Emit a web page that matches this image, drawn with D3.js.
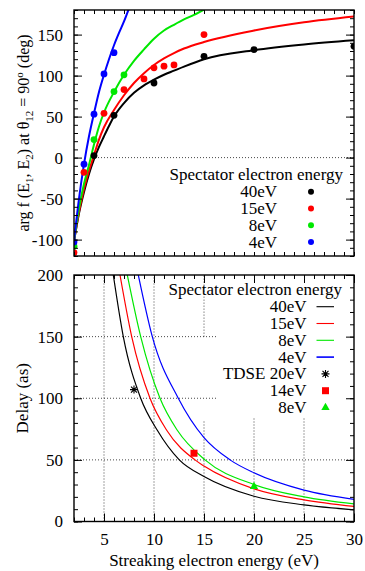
<!DOCTYPE html>
<head>
  <meta charset="utf-8">
  <style>
    body { margin: 0; background: #fff; }
    svg text { font-family: "Liberation Serif", "DejaVu Serif", serif; font-size: 17px; fill: #000; }
    .frame { fill: none; stroke: #000; stroke-width: 1.4px; }
    .tick line { stroke: #000; stroke-width: 1px; }
    .grid { stroke: #000; stroke-width: 0.9px; stroke-dasharray: 1,2; opacity: 0.8; }
    .fit { fill: none; stroke-width: 2px; }
    .delay { fill: none; stroke-width: 1.2px; }
  </style>
</head>
<body>
<script src="https://d3js.org/d3.v7.min.js"></script>
<script>
  // ---- data ----
  var spectators = ["40eV", "15eV", "8eV", "4eV"];
  var colors = ["#000000", "#ff0000", "#00e800", "#0000ff"];

  // top panel: computed points [E, arg f]
  var pts40 = [[4, 2.5], [6, 51.6], [10, 91], [15, 123.5], [20, 131.7], [30, 135.7]];
  var pts15 = [[2, -116], [3, -18], [5, 54], [7, 83], [9, 96], [10, 109.5], [11, 111.5], [12, 113], [15, 150]];
  var pts8  = [[2, -108], [4, 22], [6, 80.5], [7, 101]];
  var pts4  = [[2, -103], [3, -8], [4, 53], [5, 102], [6, 128]];

  // top panel: fitted curves
  var fit40 = [[2, -102], [2.5, -68], [3, -42], [3.5, -20], [4, -2], [4.5, 13], [5, 26], [5.5, 38.5], [6, 50],
               [7, 66.5], [8, 79], [9, 88], [10, 95], [11, 101], [12, 106], [13, 111], [15, 120], [20, 131], [25, 138], [30, 143]];
  var fit15 = [[2, -102], [2.5, -66], [3, -38], [3.5, -16], [4, 3], [4.5, 22], [5, 37], [6, 58], [7, 76], [8, 91],
               [9, 103], [10, 113], [11, 121], [12, 127.5], [13, 133], [15, 141], [20, 155], [25, 165], [30, 172]];
  var fit8  = [[2, -102], [2.5, -62], [3, -32], [3.5, -9], [4, 16], [4.5, 38], [5, 55], [6, 80], [7, 101], [8, 118],
               [9, 132], [10, 145], [11, 155], [12, 162], [13, 168.5], [14, 174], [15, 180.5]];
  var fit4  = [[2, -102], [2.5, -50], [3, -8], [3.5, 26], [4, 54], [4.5, 80], [5, 101], [5.5, 120], [6, 137],
               [6.5, 152], [7, 166], [7.5, 182]];

  // bottom panel: delay curves [E, delay]
  var delay40 = [[5.93, 200], [6.93, 150], [8.67, 100], [10.33, 74], [12.53, 50], [15, 36.5], [20, 20.5], [25, 13.5], [30, 9.5]];
  var delay15 = [[6.6, 200], [7.77, 150], [9.6, 100], [11.27, 74], [14.1, 50], [15, 45], [20, 26.5], [25, 17.5], [30, 12.2]];
  var delay8  = [[7.33, 200], [8.67, 150], [10.6, 100], [12.33, 74], [15.1, 50], [20, 30], [25, 20], [30, 14.3]];
  var delay4  = [[8.43, 200], [9.83, 150], [12.43, 100], [15, 68], [17.6, 50], [20, 39.5], [25, 25.5], [30, 18]];

  // bottom panel: TDSE points
  var tdseLabels = ["TDSE 20eV", "14eV", "8eV"];
  var tdse = [[8, 107], [14, 55.4], [20, 28.4]];

  var xTicks = [5, 10, 15, 20, 25, 30];
  var topYTicks = [-100, -50, 0, 50, 100, 150];
  var botYTicks = [0, 50, 100, 150, 200];

  var topPts = [pts40, pts15, pts8, pts4];
  var topFits = [fit40, fit15, fit8, fit4];
  var delays = [delay40, delay15, delay8, delay4];

  // ---- layout ----
  var W = 365, H = 571;
  var left = 74, right = 354;
  var topPanel = { y0: 10, y1: 256 };
  var botPanel = { y0: 275, y1: 521.5 };

  var svg = d3.select("body").append("svg")
      .attr("width", W).attr("height", H);

  var x = d3.scaleLinear().domain([2, 30]).range([left, right]);
  var yT = d3.scaleLinear().domain([-120, 180]).range([topPanel.y1, topPanel.y0]);
  var yB = d3.scaleLinear().domain([0, 200]).range([botPanel.y1, botPanel.y0]);

  var defs = svg.append("defs");
  defs.append("clipPath").attr("id", "clipT").append("rect")
      .attr("x", left).attr("y", topPanel.y0).attr("width", right - left).attr("height", topPanel.y1 - topPanel.y0);
  defs.append("clipPath").attr("id", "clipB").append("rect")
      .attr("x", left).attr("y", botPanel.y0).attr("width", right - left).attr("height", botPanel.y1 - botPanel.y0);

  var fmt = function (d) { return d < 0 ? "-" + Math.abs(d) : String(d); };

  // axes with inward ticks on all four sides
  function axes(y, y0, y1, yMajor, labelsX) {
    var g = svg.append("g");
    var minorX = d3.range(2, 31, 1), minorY = d3.range(y.domain()[0], y.domain()[1] + 1, 10);

    g.append("g").attr("transform", "translate(0," + y1 + ")")
      .call(d3.axisBottom(x).tickValues(minorX).tickSize(-4).tickFormat(""));
    g.append("g").attr("transform", "translate(0," + y0 + ")")
      .call(d3.axisTop(x).tickValues(minorX).tickSize(-4).tickFormat(""));
    if (labelsX) {
      g.append("g").attr("transform", "translate(0," + y1 + ")")
        .call(d3.axisBottom(x).tickValues(xTicks).tickSize(-8).tickPadding(11).tickFormat(fmt));
      g.append("g").attr("transform", "translate(0," + y0 + ")")
        .call(d3.axisTop(x).tickValues(xTicks).tickSize(-8).tickFormat(""));
    }
    g.append("g").attr("transform", "translate(" + left + ",0)")
      .call(d3.axisLeft(y).tickValues(minorY).tickSize(-4).tickFormat(""));
    g.append("g").attr("transform", "translate(" + right + ",0)")
      .call(d3.axisRight(y).tickValues(minorY).tickSize(-4).tickFormat(""));
    g.append("g").attr("transform", "translate(" + left + ",0)")
      .call(d3.axisLeft(y).tickValues(yMajor).tickSize(-8).tickPadding(11).tickFormat(fmt));
    g.append("g").attr("transform", "translate(" + right + ",0)")
      .call(d3.axisRight(y).tickValues(yMajor).tickSize(-8).tickFormat(""));

    g.selectAll(".domain").remove();
    g.selectAll(".tick text").style("font-family", "Liberation Serif").style("font-size", "17px");
    g.append("rect").attr("class", "frame")
      .attr("x", left).attr("y", y0).attr("width", right - left).attr("height", y1 - y0);
  }

  // ================= top panel =================
  var gTop = svg.append("g").attr("clip-path", "url(#clipT)");

  // zero line
  gTop.append("line").attr("class", "grid")
      .attr("x1", x(4.1)).attr("x2", x(30)).attr("y1", yT(0)).attr("y2", yT(0));

  var fitLine = d3.line().x(function (d) { return x(d[0]); }).y(function (d) { return yT(d[1]); })
      .curve(d3.curveMonotoneX);

  topFits.forEach(function (f, i) {
    gTop.append("path").attr("class", "fit").attr("d", fitLine(f)).style("stroke", colors[i]);
  });
  topPts.forEach(function (p, i) {
    gTop.selectAll(null).data(p).enter().append("circle")
      .attr("cx", function (d) { return x(d[0]); })
      .attr("cy", function (d) { return yT(d[1]); })
      .attr("r", 3.4).style("fill", colors[i]);
  });

  axes(yT, topPanel.y0, topPanel.y1, topYTicks, false);

  // legend top
  var lgT = svg.append("g");
  lgT.append("text").attr("x", 343).attr("y", 180).attr("text-anchor", "end").text("Spectator electron energy");
  spectators.forEach(function (s, i) {
    var yy = 191.7 + i * 16.8;
    lgT.append("text").attr("x", 277).attr("y", yy + 5.5).attr("text-anchor", "end").text(s);
    lgT.append("circle").attr("cx", 311).attr("cy", yy).attr("r", 3).style("fill", colors[i]);
  });

  // y label top
  var ylT = svg.append("text")
      .attr("transform", "translate(29," + ((topPanel.y0 + topPanel.y1) / 2) + ") rotate(-90)")
      .attr("text-anchor", "middle").style("font-size", "16px");
  ylT.append("tspan").text("arg f (E");
  ylT.append("tspan").attr("dy", 4).style("font-size", "11px").text("1");
  ylT.append("tspan").attr("dy", -4).text(", E");
  ylT.append("tspan").attr("dy", 4).style("font-size", "11px").text("2");
  ylT.append("tspan").attr("dy", -4).text(") at \u03b8");
  ylT.append("tspan").attr("dy", 4).style("font-size", "11px").text("12");
  ylT.append("tspan").attr("dy", -4).text(" = 90");
  ylT.append("tspan").attr("dy", -6).style("font-size", "11px").text("o");
  ylT.append("tspan").attr("dy", 6).text(" (deg)");

  // ================= bottom panel =================
  var gBot = svg.append("g").attr("clip-path", "url(#clipB)");

  // grid, broken around the key
  var gridV = [[5, 0, 200], [10, 0, 200], [15, 150, 200], [15, 0, 82], [20, 0, 84], [25, 0, 84]];
  var gridH = [[50, 2, 30], [100, 2, 16.3], [150, 2, 16.3]];
  gBot.selectAll(null).data(gridV).enter().append("line").attr("class", "grid")
      .attr("x1", function (d) { return x(d[0]); }).attr("x2", function (d) { return x(d[0]); })
      .attr("y1", function (d) { return yB(d[1]); }).attr("y2", function (d) { return yB(d[2]); });
  gBot.selectAll(null).data(gridH).enter().append("line").attr("class", "grid")
      .attr("y1", function (d) { return yB(d[0]); }).attr("y2", function (d) { return yB(d[0]); })
      .attr("x1", function (d) { return x(d[1]); }).attr("x2", function (d) { return x(d[2]); });

  var delayLine = d3.line().x(function (d) { return x(d[0]); }).y(function (d) { return yB(d[1]); })
      .curve(d3.curveMonotoneX);
  delays.forEach(function (f, i) {
    gBot.append("path").attr("class", "delay").attr("d", delayLine(f)).style("stroke", colors[i]);
  });

  // asterisk symbol (plus + cross)
  var star = {
    draw: function (ctx, size) {
      var r = Math.sqrt(size) / 2, q = r * 0.75;
      ctx.moveTo(-r, 0); ctx.lineTo(r, 0);
      ctx.moveTo(0, -r); ctx.lineTo(0, r);
      ctx.moveTo(-q, -q); ctx.lineTo(q, q);
      ctx.moveTo(-q, q); ctx.lineTo(q, -q);
    }
  };
  var tdseSym = [
    { path: d3.symbol().type(star).size(64)(), fill: "none", stroke: "#000" },
    { path: d3.symbol().type(d3.symbolSquare).size(49)(), fill: "#ff0000", stroke: "none" },
    { path: d3.symbol().type(d3.symbolTriangle).size(30)(), fill: "#00e800", stroke: "none" }
  ];
  tdse.forEach(function (d, i) {
    gBot.append("path").attr("d", tdseSym[i].path)
      .attr("transform", "translate(" + x(d[0]) + "," + yB(d[1]) + ")")
      .style("fill", tdseSym[i].fill).style("stroke", tdseSym[i].stroke).style("stroke-width", 1.1);
  });

  axes(yB, botPanel.y0, botPanel.y1, botYTicks, true);

  // legend bottom
  var lgB = svg.append("g");
  lgB.append("text").attr("x", 342).attr("y", 295).attr("text-anchor", "end").text("Spectator electron energy");
  spectators.forEach(function (s, i) {
    var yy = 306.7 + i * 16.8;
    lgB.append("text").attr("x", 306.5).attr("y", yy + 5.5).attr("text-anchor", "end").text(s);
    lgB.append("line").attr("x1", 316.5).attr("x2", 334).attr("y1", yy).attr("y2", yy)
      .style("stroke", colors[i]).style("stroke-width", i === 3 ? 1.6 : 1.1);
  });
  tdseLabels.forEach(function (s, i) {
    var yy = 306.7 + (i + 4) * 16.8;
    lgB.append("text").attr("x", 306.5).attr("y", yy + 5.5).attr("text-anchor", "end").text(s);
    lgB.append("path").attr("d", tdseSym[i].path)
      .attr("transform", "translate(325.5," + yy + ")")
      .style("fill", tdseSym[i].fill).style("stroke", tdseSym[i].stroke).style("stroke-width", 1.1);
  });

  svg.append("text")
      .attr("transform", "translate(28," + ((botPanel.y0 + botPanel.y1) / 2) + ") rotate(-90)")
      .attr("text-anchor", "middle").text("Delay (as)");
  svg.append("text").attr("x", (left + right) / 2).attr("y", 566)
      .attr("text-anchor", "middle").text("Streaking electron energy (eV)");
</script>
</body>
</html>
